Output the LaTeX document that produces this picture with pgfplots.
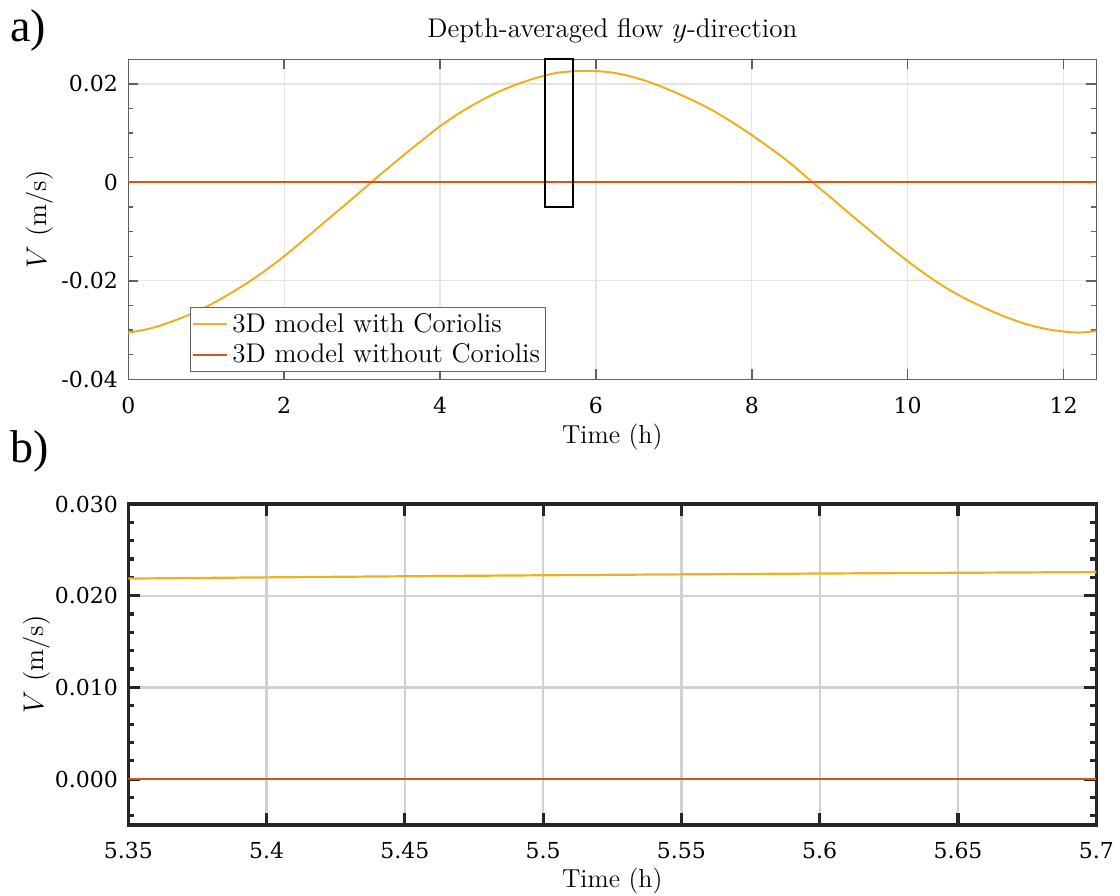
\documentclass[border=0pt]{standalone}
\usepackage{fontspec}
\usepackage{pgfplots}
\usepackage{pgfplotstable}
\pgfplotsset{compat=1.18}
\newfontfamily\tickfont{DejaVu Serif}
\newfontfamily\panelfont{Liberation Serif}
\definecolor{myyellow}{rgb}{0.929,0.694,0.125}
\definecolor{myred}{rgb}{0.850,0.325,0.098}
\newcommand\tkf{\tickfont\fontsize{11}{13}\selectfont}

\pgfplotstableread{
t v
0.00 -0.0305
0.25 -0.0298
0.50 -0.0286
0.75 -0.0271
1.00 -0.0253
1.25 -0.0231
1.50 -0.0207
1.75 -0.0180
2.00 -0.0150
2.25 -0.0117
2.50 -0.0083
2.75 -0.0050
3.00 -0.0016
3.25 0.0018
3.50 0.0051
3.75 0.0083
4.00 0.0114
4.25 0.0141
4.50 0.0164
4.75 0.0184
5.00 0.0200
5.25 0.0213
5.50 0.02225
5.75 0.0226
6.00 0.02262
6.25 0.0222
6.50 0.0213
6.75 0.0200
7.00 0.0184
7.25 0.0166
7.50 0.0146
7.75 0.0122
8.00 0.0096
8.25 0.0068
8.50 0.0038
8.75 0.0004
9.00 -0.0029
9.25 -0.0063
9.50 -0.0096
9.75 -0.0129
10.00 -0.0160
10.25 -0.0189
10.50 -0.0215
10.75 -0.0237
11.00 -0.0256
11.25 -0.0273
11.50 -0.0287
11.75 -0.0297
12.00 -0.0303
12.20 -0.0305
12.42 -0.0302
}\datatop

\pgfplotstableread{
t v
0.00 0
12.42 0
}\datatopzero

\pgfplotstableread{
t v
5.35 0.02187
5.40 0.02200
5.45 0.02212
5.50 0.02223
5.55 0.02233
5.60 0.02242
5.65 0.02250
5.70 0.02258
}\datazoom

\pgfplotstableread{
t v
5.35 0
5.70 0
}\datazoomzero

\begin{document}
\begin{tikzpicture}
\useasboundingbox (0,0) rectangle (560pt,447.5pt);

\begin{axis}[
  at={(64.15pt,257.85pt)}, anchor=south west,
  scale only axis, width=484pt, height=160pt,
  xmin=0, xmax=12.42, ymin=-0.04, ymax=0.025,
  clip=false,
  scaled x ticks=false, scaled y ticks=false,
  xtick={0,2,4,6,8,10,12},
  xticklabels={0,2,4,6,8,10,12},
  ytick={-0.04,-0.02,0,0.02},
  yticklabels={-0.04,-0.02,0,0.02},
  minor ytick={-0.035,-0.03,-0.025,-0.015,-0.01,-0.005,0.005,0.01,0.015},
  tick align=inside, major tick length=5pt, minor tick length=2.5pt,
  axis line style={black!62, line width=0.7pt},
  tick style={black!62, line width=0.7pt},
  grid=major, major grid style={black!10, line width=0.6pt},
  xticklabel style={font=\tkf, anchor=base, yshift=-17pt},
  yticklabel style={font=\tkf, anchor=east, inner sep=0pt, xshift=-5pt},
  title={Depth-averaged flow $y$-direction},
  title style={font=\fontsize{13.5}{16}\selectfont, at={(0.5,1)}, anchor=base, yshift=5pt},
  xlabel={Time (h)},
  xlabel style={font=\fontsize{13}{15}\selectfont, at={(0.5,0)}, anchor=base, yshift=-32pt},
  ylabel={$V$ (m/s)},
  ylabel style={font=\fontsize{13.5}{16}\selectfont, at={(-0.0847,0.5)}, anchor=base},
  legend style={at={(0.064,0.023)}, anchor=south west, draw=black!62, line width=0.6pt,
    font=\fontsize{13.5}{16}\selectfont, nodes={inner sep=2.2pt}, row sep=0pt,
    inner xsep=0.5pt, inner ysep=0.5pt},
  legend cell align=left,
  legend image code/.code={\draw[#1] (0pt,0pt) -- (17pt,0pt);},
]
\addplot[myyellow, line width=1pt, smooth, tension=0.5] table[x=t, y=v] {\datatop};
\addlegendentry{3D model with Coriolis}
\addplot[myred, line width=1.1pt] table[x=t, y=v] {\datatopzero};
\addlegendentry{3D model without Coriolis}
\draw[black, line width=1pt] (axis cs:5.35,-0.005) rectangle (axis cs:5.7,0.025);
\end{axis}

\begin{axis}[
  at={(64.15pt,35pt)}, anchor=south west,
  scale only axis, width=484pt, height=160.5pt,
  xmin=5.35, xmax=5.7, ymin=-0.005, ymax=0.03,
  scaled x ticks=false, scaled y ticks=false,
  xtick={5.35,5.4,5.45,5.5,5.55,5.6,5.65,5.7},
  xticklabels={5.35,5.4,5.45,5.5,5.55,5.6,5.65,5.7},
  ytick={0,0.01,0.02,0.03},
  yticklabels={0.000,0.010,0.020,0.030},
  minor ytick={-0.004,-0.002,0.002,0.004,0.006,0.008,0.012,0.014,0.016,0.018,0.022,0.024,0.026,0.028},
  tick align=inside, major tick length=6pt, minor tick length=3pt,
  axis line style={black!85, line width=1.6pt},
  tick style={black!85, line width=1.6pt},
  grid=major, major grid style={black!18, line width=1.1pt},
  xticklabel style={font=\tkf, anchor=base, yshift=-16.5pt},
  yticklabel style={font=\tkf, anchor=east, inner sep=0pt, xshift=-5pt},
  xlabel={Time (h)},
  xlabel style={font=\fontsize{13}{15}\selectfont, at={(0.5,0)}, anchor=base, yshift=-31pt},
  ylabel={$V$ (m/s)},
  ylabel style={font=\fontsize{13.5}{16}\selectfont, at={(-0.0878,0.5)}, anchor=base},
]
\addplot[myyellow, line width=1.1pt] table[x=t, y=v] {\datazoom};
\addplot[myred, line width=1.1pt] table[x=t, y=v] {\datazoomzero};
\end{axis}

\node[anchor=base west, inner sep=0pt, font=\panelfont\fontsize{23}{26}\selectfont] at (5pt,426.6pt) {a)};
\node[anchor=base west, inner sep=0pt, font=\panelfont\fontsize{23}{26}\selectfont] at (5pt,216pt) {b)};
\end{tikzpicture}
\end{document}
